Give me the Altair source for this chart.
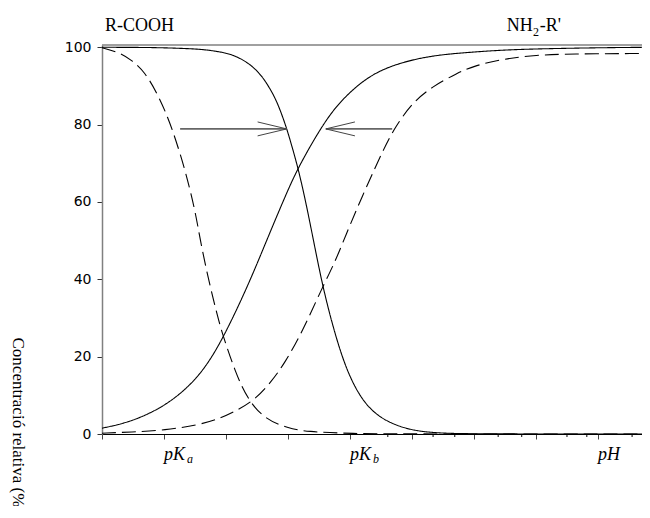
import altair as alt
import pandas as pd

# ---- data ----
XMAX = 8.71
YMAX = 100.6

# solid curve, decreasing
s_dec_x = [0, 0.5, 1.0, 1.5, 1.71, 2.0, 2.19, 2.35, 2.47, 2.58, 2.68, 2.78, 2.87, 2.98, 3.06, 3.16, 3.27, 3.40, 3.56, 3.76, 3.97, 4.24, 4.56, 5.0, 5.48, 6.0, 8.71]
s_dec_y = [100, 100, 99.9, 99.6, 99.3, 98.6, 97.5, 96.0, 94.4, 92.5, 90.1, 87.3, 84.0, 79.0, 74.6, 68.9, 61.3, 51.0, 38.0, 25.6, 15.3, 7.5, 3.3, 0.8, 0.2, 0, 0]
# solid curve, increasing
s_inc_x = [0, 0.47, 1.02, 1.44, 1.71, 1.95, 2.24, 2.47, 2.68, 2.95, 3.16, 3.6, 3.92, 4.35, 4.84, 5.37, 6.0, 6.47, 7.0, 8.0, 8.71]
s_inc_y = [1.5, 3.1, 7.2, 12.8, 18.2, 24.8, 34.4, 42.8, 51.0, 61.3, 68.9, 81.2, 87.4, 93.2, 96.2, 98.0, 98.8, 99.3, 99.6, 99.9, 100]
# dashed curve, decreasing
d_dec_x = [0, 0.26, 0.47, 0.69, 0.9, 1.06, 1.19, 1.34, 1.50, 1.58, 1.71, 1.87, 1.95, 2.15, 2.35, 2.63, 3.0, 3.3, 4.0, 5.0, 8.71]
d_dec_y = [99.9, 98.8, 96.8, 93.7, 87.8, 82.0, 76.1, 68.3, 58.0, 50.5, 40.4, 30.0, 25.5, 16.0, 8.9, 3.8, 1.5, 0.6, 0.1, 0, 0]
# dashed curve, increasing
d_inc_x = [0, 0.47, 1.02, 1.55, 1.92, 2.19, 2.47, 2.73, 2.95, 3.23, 3.55, 3.76, 3.92, 4.24, 4.56, 4.73, 5.0, 5.32, 5.74, 6.0, 6.47, 7.0, 7.55, 8.71]
d_inc_y = [0.2, 0.5, 1.0, 2.3, 4.1, 6.2, 8.9, 13.5, 18.4, 26.4, 37.8, 44.5, 51.0, 63.1, 74.3, 79.4, 85.6, 89.8, 93.4, 95.2, 97.0, 98.0, 98.3, 98.4]

# arrows (shaft start, tip) and arrowhead wings
arrow_id = ["a1", "a2"]
arrow_tail_x = [1.26, 4.68]
arrow_tip_x = [2.98, 3.61]
arrow_y = [78.9, 78.9]
arrow_wing_x = [2.51, 4.08]
wing_up = 80.7
wing_dn = 77.1

# x axis
x_major = [0, 1, 2, 3, 4, 5, 6, 7, 8]
x_minor = [4.61, 5.34, 5.69, 6.39, 6.77, 7.5, 7.82, 8.55]
y_ticks = [0, 20, 40, 60, 80, 100]

# labels under the x axis
xl_text = ["pK", "pK", "pH"]
xl_x = [1, 4, 8]
xl_y = [-6.72, -6.72, -6.72]
xs_text = ["a", "b"]
xs_x = [1, 4]
xs_y = [-7.5, -7.5]

# compound labels above the plot
cl_text = ["R-COOH", "NH", "-R'"]
cl_x = [0.05, 6.53, 7.06]
cl_y = [104.2, 104.2, 104.2]
cs_text = ["2"]
cs_x = [6.95]
cs_y = [102.9]

# ---- build tables ----
rows = []
for name, style, xs, ys in [
    ("s_dec", "solid", s_dec_x, s_dec_y),
    ("s_inc", "solid", s_inc_x, s_inc_y),
    ("d_dec", "dashed", d_dec_x, d_dec_y),
    ("d_inc", "dashed", d_inc_x, d_inc_y),
]:
    for x, y in zip(xs, ys):
        rows.append({"x": x, "y": y, "curve": name, "style": style})
curves = pd.DataFrame(rows)

shafts = pd.DataFrame(
    [{"x": a, "y": y, "seg": i} for i, a, y in zip(arrow_id, arrow_tail_x, arrow_y)]
    + [{"x": b, "y": y, "seg": i} for i, b, y in zip(arrow_id, arrow_tip_x, arrow_y)]
)
heads_rows = []
for i, t, w, y in zip(arrow_id, arrow_tip_x, arrow_wing_x, arrow_y):
    heads_rows += [
        {"x": w, "y": wing_up, "seg": i, "o": 0},
        {"x": t, "y": y, "seg": i, "o": 1},
        {"x": w, "y": wing_dn, "seg": i, "o": 2},
    ]
heads = pd.DataFrame(heads_rows)

xsc = alt.Scale(domain=[0, XMAX], nice=False, zero=False)
ysc = alt.Scale(domain=[0, YMAX], nice=False, zero=False)

x_axis = alt.Axis(values=x_major, labels=False, title=None, grid=False, tickSize=5,
                  tickColor="#444", domainColor="black", domainWidth=1.2)
y_axis = alt.Axis(values=y_ticks, grid=False, tickSize=5, tickColor="#333",
                  domainColor="#808080", domainWidth=1.5,
                  labelFont="DejaVu Sans", labelFontSize=14, labelColor="black", labelPadding=6,
                  title="Concentració relativa (%)", titleFont="Liberation Serif",
                  titleFontSize=17, titleFontWeight="normal", titleColor="black",
                  titleAngle=90, titleAlign="left", titleBaseline="alphabetic",
                  titleX=-90, titleY=292)


def X():
    return alt.X("x:Q", scale=xsc, axis=x_axis)


def Y():
    return alt.Y("y:Q", scale=ysc, axis=y_axis)


line_layer = alt.Chart(curves).mark_line(color="black", strokeWidth=1.1, interpolate="basis").encode(
    x=X(), y=Y(),
    detail="curve:N",
    strokeDash=alt.StrokeDash("style:N", scale=alt.Scale(domain=["solid", "dashed"], range=[[1, 0], [14, 6]]), legend=None),
)

top_rule = alt.Chart(pd.DataFrame({"y": [YMAX]})).mark_rule(color="#808080", strokeWidth=1.5).encode(
    y=Y()
)

shaft_layer = alt.Chart(shafts).mark_line(color="#666666", strokeWidth=1.6).encode(
    x=X(), y=Y(), detail="seg:N"
)
head_layer = alt.Chart(heads).mark_line(color="#444444", strokeWidth=1).encode(
    x=X(), y=Y(), detail="seg:N", order="o:Q"
)

minor_layer = alt.Chart(pd.DataFrame({"x": x_minor})).mark_rule(color="black", strokeWidth=1).encode(
    x=X(), y=alt.value(389), y2=alt.value(392)
)

xl_layer = alt.Chart(pd.DataFrame({"x": xl_x, "y": xl_y, "t": xl_text})).mark_text(
    font="Liberation Serif", fontStyle="italic", fontSize=18, align="left", baseline="alphabetic", color="black"
).encode(x=X(), y=Y(), text="t:N")

xs_layer = alt.Chart(pd.DataFrame({"x": xs_x, "y": xs_y, "t": xs_text})).mark_text(
    font="Liberation Serif", fontStyle="italic", fontSize=12, align="left", baseline="alphabetic", color="black", dx=23
).encode(x=X(), y=Y(), text="t:N")

cl_layer = alt.Chart(pd.DataFrame({"x": cl_x, "y": cl_y, "t": cl_text})).mark_text(
    font="Liberation Serif", fontSize=18, align="left", baseline="alphabetic", color="black"
).encode(x=X(), y=Y(), text="t:N")

cs_layer = alt.Chart(pd.DataFrame({"x": cs_x, "y": cs_y, "t": cs_text})).mark_text(
    font="Liberation Serif", fontSize=12, align="left", baseline="alphabetic", color="black"
).encode(x=X(), y=Y(), text="t:N")

chart = alt.layer(
    line_layer, top_rule, shaft_layer, head_layer, minor_layer, xl_layer, xs_layer, cl_layer, cs_layer
).properties(
    width=540,
    height=389,
    autosize=alt.AutoSizeParams(type="none"),
    padding={"left": 94, "top": 37, "right": 0, "bottom": 72},
    background="white",
).configure_view(stroke=None)

chart.save("out.html", embed_options={"renderer": "svg", "actions": False})
